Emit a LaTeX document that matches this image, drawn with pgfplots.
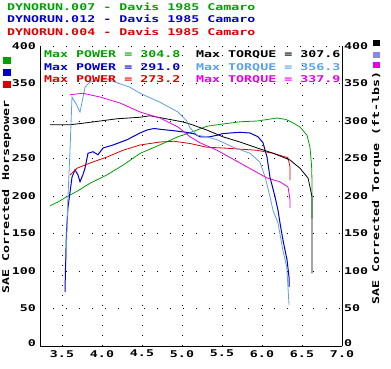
\documentclass[border=0pt]{standalone}
\usepackage{pgfplots}
\pgfplotsset{compat=1.18}
\usepackage{fontspec}
\newfontfamily\pix{DejaVu Sans Mono}[FakeStretch=1.43]
\newcommand\pixf{\pix\bfseries\fontsize{9.3}{11}\selectfont}
\definecolor{dgreen}{RGB}{0,160,0}
\definecolor{dblue}{RGB}{0,0,200}
\definecolor{dred}{RGB}{220,0,0}
\definecolor{lblue}{RGB}{90,160,230}
\definecolor{mag}{RGB}{230,0,230}
\definecolor{purp}{RGB}{136,136,240}
\begin{document}
\begin{tikzpicture}[x=1pt,y=1pt]
\path[use as bounding box] (0,0) rectangle (391,368);
\begin{axis}[
  at={(40pt,22pt)}, anchor=south west,
  scale only axis, width=302pt, height=300pt,
  xmin=3.225, xmax=7.0, ymin=0, ymax=400,
  axis x line*=bottom, axis y line*=left,
  axis line style={-, line width=1pt, black},
  xtick={3.5,4.0,4.5,5.0,5.5,6.0,6.5,7.0},
  xticklabels={3.5,4.0,4.5,5.0,5.5,6.0,6.5,7.0},
  ytick={50,100,...,400},
  extra y ticks={0},
  extra y tick style={yticklabel style={anchor=base east}},
  major tick length=0pt,
  /pgf/number format/assume math mode=true,
  ticklabel style={font=\pixf},
  yticklabel style={anchor=east, inner sep=0pt, xshift=-4pt},
  xticklabel style={anchor=north, inner sep=0pt, yshift=-4pt},
  grid=major,
  x grid style={black, line width=0.9pt, line cap=butt, dash pattern=on 0.9pt off 9.1pt},
  y grid style={black, line width=0.9pt, line cap=butt, dash pattern=on 0.9pt off 12.1pt},
  every axis plot/.append style={line width=0.8pt, mark=none},
]
% DYNORUN.007 power (green)
\addplot[dgreen] coordinates {
(3.35,187) (3.45,192) (3.56,199) (3.70,207) (3.85,217) (4.06,228) (4.26,241)
(4.48,257) (4.72,268) (4.95,279) (5.14,286) (5.31,293) (5.51,296) (5.73,299)
(5.94,300) (6.19,304) (6.30,302) (6.38,298) (6.475,292) (6.5625,281) (6.6,265)
(6.62,240) (6.625,220) (6.625,170)};
% DYNORUN.012 power (blue)
\addplot[dblue, line width=1pt] coordinates {
(3.5375,72) (3.545,110) (3.555,150) (3.575,185) (3.6,205) (3.625,225) (3.6625,235)
(3.7,228) (3.725,219) (3.76,228) (3.7875,237) (3.825,257) (3.8875,259) (3.95,255)
(4.0125,264) (4.1375,268) (4.3125,275) (4.475,284) (4.5625,288) (4.65,290)
(4.725,289) (4.9,287) (5.05,285) (5.15,283) (5.225,279) (5.35,279) (5.4375,281)
(5.5,283) (5.6,284) (5.725,285) (5.85,284) (5.95,279) (6.0125,271) (6.0625,252)
(6.1,225) (6.1625,199) (6.2,181) (6.225,164) (6.2625,141) (6.3125,115)
(6.3375,92) (6.3375,79)};
% DYNORUN.004 power (red)
\addplot[dred] coordinates {
(3.6,228) (3.6875,237) (3.85,244) (4.0625,252) (4.2625,261) (4.475,268)
(4.725,272) (4.9,273) (5.1,270) (5.3125,265) (5.5125,264) (5.9375,261)
(6.1375,257) (6.325,251) (6.35,239) (6.35,221)};
\end{axis}
\begin{axis}[
  at={(40pt,22pt)}, anchor=south west,
  scale only axis, width=302pt, height=300pt,
  xmin=3.225, xmax=7.0, ymin=0, ymax=400,
  axis x line=none, axis y line*=right,
  axis line style={-, line width=1pt, black},
  ytick={50,100,...,400},
  extra y ticks={0},
  extra y tick style={yticklabel style={anchor=base west}},
  major tick length=0pt,
  /pgf/number format/assume math mode=true,
  ticklabel style={font=\pixf},
  yticklabel style={anchor=west, inner sep=0pt, xshift=2pt},
  every axis plot/.append style={line width=0.8pt, mark=none},
]
% DYNORUN.007 torque (black)
\addplot[black] coordinates {
(3.35,295) (3.48,295) (3.6,295) (3.76,297) (3.975,300) (4.19,303) (4.475,305)
(4.6,307) (4.8,303) (5.0,299) (5.1,296) (5.31,288) (5.51,279) (5.725,272)
(5.94,264) (6.14,257) (6.35,248) (6.475,237) (6.575,224) (6.6,212) (6.625,199)
(6.625,97)};
% DYNORUN.012 torque (light blue)
\addplot[lblue] coordinates {
(3.55,112) (3.56,150) (3.575,200) (3.6,260) (3.625,332) (3.68,322) (3.725,312)
(3.76,330) (3.7875,345) (3.85,352) (3.95,354) (4.06,356) (4.1875,351) (4.35,345)
(4.475,337) (4.725,325) (4.95,312) (5.06,300) (5.1,291) (5.19,281) (5.31,279)
(5.44,275) (5.64,265) (5.85,257) (5.975,245) (6.04,225) (6.1,199) (6.1375,181)
(6.2,164) (6.26,128) (6.31,105) (6.3375,55)};
% DYNORUN.004 torque (magenta)
\addplot[mag] coordinates {
(3.6,335) (3.76,337) (3.975,332) (4.225,324) (4.475,312) (4.725,304) (4.95,292)
(5.1,279) (5.225,271) (5.4375,261) (5.725,244) (6.0625,224) (6.225,219)
(6.325,212) (6.35,195) (6.35,184)};
\end{axis}
% titles
\node[anchor=base west, inner sep=0pt, text=dgreen, font=\pixf] at (7,358) {DYNORUN.007 - Davis 1985 Camaro};
\node[anchor=base west, inner sep=0pt, text=dblue, font=\pixf] at (7,346) {DYNORUN.012 - Davis 1985 Camaro};
\node[anchor=base west, inner sep=0pt, text=dred, font=\pixf] at (7,333) {DYNORUN.004 - Davis 1985 Camaro};
% max values
\node[anchor=base west, inner sep=0pt, text=dgreen, font=\pixf] at (44,311) {Max POWER = 304.8};
\node[anchor=base west, inner sep=0pt, text=dblue, font=\pixf] at (44,298) {Max POWER = 291.0};
\node[anchor=base west, inner sep=0pt, text=dred, font=\pixf] at (44,286) {Max POWER = 273.2};
\node[anchor=base west, inner sep=0pt, text=black, font=\pixf] at (196,311) {Max TORQUE = 307.6};
\node[anchor=base west, inner sep=0pt, text=lblue, font=\pixf] at (196,298) {Max TORQUE = 356.3};
\node[anchor=base west, inner sep=0pt, text=mag, font=\pixf] at (196,286) {Max TORQUE = 337.9};
% axis titles
\node[rotate=90, inner sep=0pt, font=\pixf] at (6.5,171) {SAE Corrected Horsepower};
\node[rotate=90, inner sep=0pt, font=\pixf] at (376.5,180) {SAE Corrected Torque (ft-lbs)};
% colour squares
\fill[dgreen] (3,304) rectangle (11,311);
\fill[dblue] (3,292) rectangle (11,299);
\fill[dred] (3,280) rectangle (11,287);
\fill[black] (373,322) rectangle (380,328);
\fill[purp] (373,310) rectangle (380,316);
\fill[mag] (373,300) rectangle (380,306);
\end{tikzpicture}
\end{document}
